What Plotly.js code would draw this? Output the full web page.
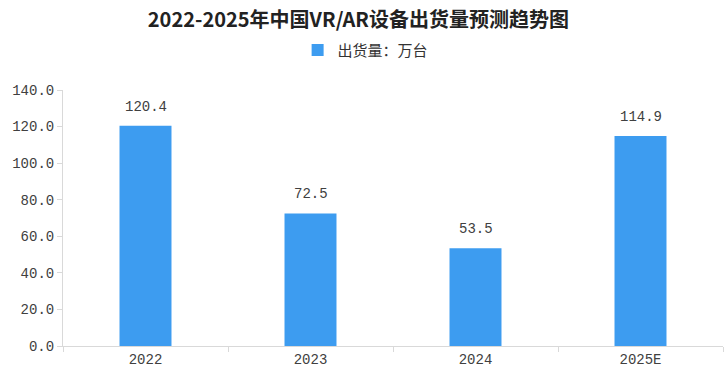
<!DOCTYPE html>
<html><head><meta charset="utf-8">
<script src="https://cdn.plot.ly/plotly-3.0.1.min.js"></script>
<style>html,body{margin:0;padding:0;background:#fff}#c{width:724px;height:386px}</style>
</head><body><div id="c"></div>
<script>
const categories = ['2022', '2023', '2024', '2025E'];
const shipments = [120.4, 72.5, 53.5, 114.9];
const yTicks = [0, 20, 40, 60, 80, 100, 120, 140];
const yTickLabels = ['0.0', '20.0', '40.0', '60.0', '80.0', '100.0', '120.0', '140.0'];
const seriesName = '出货量：万台';
const chartTitle = '2022-2025年中国VR/AR设备出货量预测趋势图';

const numFont = 'Liberation Mono, DejaVu Sans Mono, monospace';
const cjkFont = 'Noto Sans CJK SC, sans-serif';

const trace = {
  type: 'bar', x: categories, y: shipments, name: seriesName,
  marker: {color: '#3d9cf0', line: {width: 0}},
  hoverinfo: 'skip', showlegend: true
};

// category axis: annotations positioned by category index
const annotations = categories.map((c, i) => ({
  x: i, y: shipments[i], xref: 'x', yref: 'y',
  text: shipments[i].toFixed(1), showarrow: false,
  yanchor: 'bottom', yshift: 9,
  font: {family: numFont, size: 14, color: '#404040'}
}));

const layout = {
  width: 724, height: 386,
  margin: {l: 63, r: 1, t: 90, b: 40},
  paper_bgcolor: '#fff', plot_bgcolor: '#fff',
  title: {text: '<b>' + chartTitle + '</b>', x: 0.495, xref: 'container', xanchor: 'center',
          y: 0.947, yref: 'container', yanchor: 'middle',
          font: {family: cjkFont, size: 20, color: '#222'}},
  showlegend: true,
  legend: {orientation: 'h', x: 0.505, xref: 'container', xanchor: 'center',
           y: 0.87, yref: 'container', yanchor: 'middle',
           font: {family: cjkFont, size: 15, color: '#333'}, itemwidth: 30},
  bargap: 0.685,
  xaxis: {type: 'category', range: [-0.5, 3.5], showgrid: false, showline: true, linecolor: '#d9d9d9', linewidth: 1,
          ticks: 'outside', tickson: 'boundaries', ticklen: 5, tickcolor: '#d9d9d9', tickangle: 0,
          tickfont: {family: numFont, size: 14, color: '#404040'}, fixedrange: true},
  yaxis: {range: [0, 140], tickvals: yTicks, ticktext: yTickLabels, showgrid: false,
          showline: true, linecolor: '#d9d9d9', linewidth: 1, ticks: 'outside', ticklen: 5,
          tickcolor: '#d9d9d9', zeroline: false,
          tickfont: {family: numFont, size: 14, color: '#404040'}, fixedrange: true},
  annotations: annotations
};

Plotly.newPlot('c', [trace], layout, {displayModeBar: false, staticPlot: true});
</script></body></html>
